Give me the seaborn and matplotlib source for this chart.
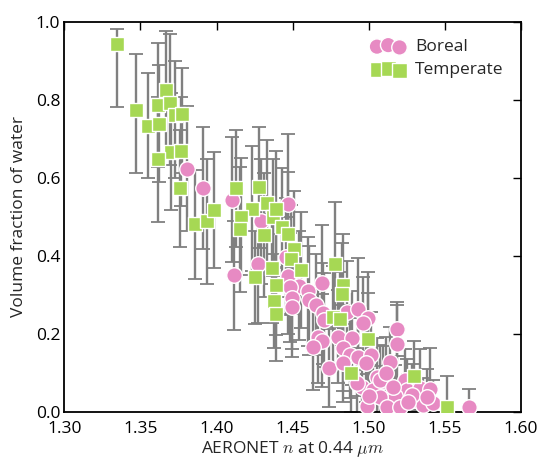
import numpy as np
import pandas as pd
import matplotlib
matplotlib.use("Agg")
import matplotlib.pyplot as plt
import seaborn as sns

# ---------------- data ----------------
boreal_n = [1.3804, 1.3913, 1.4102, 1.4469, 1.4290, 1.4272, 1.4115, 1.4454, 1.4469, 1.4544,
            1.4483, 1.4604, 1.4696, 1.4494, 1.4609, 1.4494, 1.4653, 1.4701, 1.4706, 1.4668,
            1.4855, 1.4931, 1.4997, 1.4964, 1.5183, 1.5183, 1.4800, 1.4888, 1.4691, 1.4632,
            1.4829, 1.4877, 1.4931, 1.5013, 1.4982, 1.5139, 1.4741, 1.4833, 1.5052, 1.5095,
            1.5238, 1.4953, 1.4921, 1.5030, 1.5249, 1.5336, 1.5402, 1.5172, 1.5074, 1.5304,
            1.4986, 1.5118, 1.5205, 1.5354, 1.5424, 1.5660, 1.5074, 1.5284, 1.5380, 1.5110,
            1.5000, 1.5260, 1.5160]
boreal_water = [0.623, 0.574, 0.543, 0.532, 0.488, 0.378, 0.349, 0.397, 0.348, 0.323,
                0.319, 0.308, 0.329, 0.290, 0.285, 0.269, 0.274, 0.252, 0.235, 0.192,
                0.256, 0.263, 0.239, 0.226, 0.212, 0.174, 0.192, 0.188, 0.182, 0.166,
                0.162, 0.145, 0.141, 0.145, 0.124, 0.128, 0.111, 0.124, 0.088, 0.079,
                0.081, 0.064, 0.072, 0.055, 0.055, 0.060, 0.058, 0.040, 0.038, 0.030,
                0.015, 0.012, 0.012, 0.017, 0.021, 0.012, 0.081, 0.043, 0.038, 0.100,
                0.040, 0.025, 0.062]
boreal_err = [0.16, 0.157, 0.16, 0.18, 0.16, 0.15, 0.14, 0.15, 0.15, 0.14,
              0.14, 0.14, 0.15, 0.13, 0.14, 0.13, 0.13, 0.13, 0.12, 0.12,
              0.13, 0.13, 0.12, 0.12, 0.07, 0.10, 0.12, 0.12, 0.12, 0.11,
              0.11, 0.11, 0.10, 0.11, 0.10, 0.09, 0.10, 0.10, 0.10, 0.09,
              0.08, 0.09, 0.09, 0.08, 0.08, 0.10, 0.105, 0.08, 0.08, 0.07,
              0.08, 0.07, 0.07, 0.07, 0.06, 0.046, 0.09, 0.08, 0.07, 0.09,
              0.08, 0.07, 0.08]

temperate_n = [1.3348, 1.3469, 1.3552, 1.3624, 1.3666, 1.3617, 1.3696, 1.3727, 1.3773, 1.3701,
               1.3617, 1.3767, 1.3760, 1.3859, 1.3939, 1.3985, 1.4128, 1.4277, 1.4235, 1.4163,
               1.4154, 1.4329, 1.4369, 1.4391, 1.4314, 1.4428, 1.4467, 1.4509, 1.4489, 1.4553,
               1.4362, 1.4255, 1.4391, 1.4379, 1.4391, 1.4776, 1.4829, 1.4822, 1.4763, 1.4811,
               1.4997, 1.4882, 1.5297, 1.5512]
temperate_water = [0.942, 0.773, 0.733, 0.738, 0.825, 0.786, 0.792, 0.760, 0.762, 0.666,
                   0.647, 0.668, 0.573, 0.480, 0.488, 0.517, 0.573, 0.575, 0.520, 0.500,
                   0.467, 0.536, 0.498, 0.519, 0.453, 0.474, 0.455, 0.416, 0.391, 0.363,
                   0.367, 0.344, 0.325, 0.284, 0.250, 0.378, 0.325, 0.301, 0.243, 0.237,
                   0.185, 0.099, 0.091, 0.012]
temperate_err_lo = [0.16, 0.16, 0.135, 0.15, 0.17, 0.16, 0.16, 0.16, 0.15, 0.15,
                    0.16, 0.14, 0.15, 0.14, 0.16, 0.15, 0.15, 0.155, 0.16, 0.15,
                    0.16, 0.16, 0.15, 0.15, 0.16, 0.15, 0.16, 0.15, 0.14, 0.15,
                    0.14, 0.12, 0.13, 0.12, 0.12, 0.16, 0.13, 0.13, 0.13, 0.12,
                    0.12, 0.10, 0.09, 0.08]
temperate_err_hi = [0.04, 0.145, 0.135, 0.15, 0.15, 0.16, 0.176, 0.14, 0.12, 0.15,
                    0.16, 0.14, 0.15, 0.14, 0.16, 0.15, 0.15, 0.155, 0.16, 0.15,
                    0.16, 0.16, 0.15, 0.15, 0.16, 0.15, 0.16, 0.15, 0.14, 0.15,
                    0.14, 0.12, 0.13, 0.12, 0.12, 0.16, 0.13, 0.13, 0.13, 0.12,
                    0.12, 0.10, 0.09, 0.08]

x_ticks = [1.30, 1.35, 1.40, 1.45, 1.50, 1.55, 1.60]
y_ticks = [0.0, 0.2, 0.4, 0.6, 0.8, 1.0]

PINK = "#e78ac3"
GREEN = "#a6d854"
GREY = "#808080"

# ---------------- style ----------------
sns.set_style("white")
plt.rcParams['font.family'] = ['Open Sans', 'DejaVu Sans']
plt.rcParams['mathtext.fontset'] = 'cm'

fig = plt.figure(figsize=(5.4, 4.58), dpi=100)
ax = fig.add_axes([64.3 / 540, 1 - 411.5 / 458, (521 - 64.3) / 540, (411.5 - 21.7) / 458])

# error bars (behind markers)
ax.errorbar(boreal_n, boreal_water, yerr=boreal_err, fmt='none', ecolor=GREY,
            elinewidth=1.7, capsize=5, capthick=1.3, zorder=1)
ax.errorbar(temperate_n, temperate_water, yerr=[temperate_err_lo, temperate_err_hi],
            fmt='none', ecolor=GREY, elinewidth=1.7, capsize=5, capthick=1.3, zorder=1)

sns.scatterplot(x=boreal_n, y=boreal_water, marker='o', color=PINK, s=125,
                edgecolor='white', linewidth=1.0, label='Boreal', ax=ax, zorder=3)
sns.scatterplot(x=temperate_n, y=temperate_water, marker='s', color=GREEN, s=110,
                edgecolor='white', linewidth=1.0, label='Temperate', ax=ax, zorder=3)

ax.set_xlim(1.30, 1.60)
ax.set_ylim(0.0, 1.0)
ax.set_xticks(x_ticks)
ax.set_xticklabels([f"{v:.2f}" for v in x_ticks])
ax.set_yticks(y_ticks)
ax.set_yticklabels([f"{v:.1f}" for v in y_ticks])
ax.tick_params(direction='in', top=True, right=True, length=6, width=1,
               labelsize=12.5, pad=3, colors='black')
ax.tick_params(axis='x', pad=7)
for sp in ax.spines.values():
    sp.set_visible(True)
    sp.set_color('black')
    sp.set_linewidth(1.3)

ax.set_xlabel(r"AERONET $n$ at 0.44 $\mu m$", fontsize=12.5, labelpad=1)
ax.set_ylabel("Volume fraction of water", fontsize=12.5, labelpad=6)

ax.legend(loc='upper right', scatterpoints=3, scatteryoffsets=[0.375, 0.5, 0.3125],
          frameon=False, fontsize=12.5, labelspacing=0.4, handletextpad=0.6,
          handlelength=1.9, borderaxespad=0.6)

fig.savefig("out.png", dpi=100)
